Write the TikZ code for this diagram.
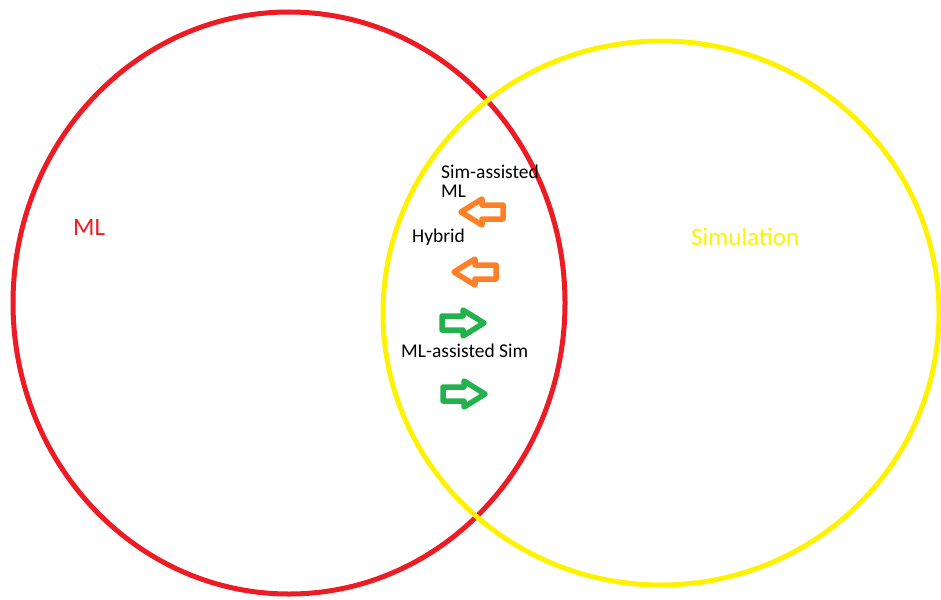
\documentclass[tikz,border=0pt]{standalone}
\usepackage{fontspec}
\setmainfont{Carlito}
\definecolor{paintred}{RGB}{237,28,36}
\definecolor{paintyellow}{RGB}{255,242,0}
\definecolor{paintorange}{RGB}{255,127,39}
\definecolor{paintgreen}{RGB}{34,177,76}
\tikzset{
  set/.style={line width=5pt},
  biglabel/.style={anchor=base west, inner sep=0pt, font=\fontsize{25}{30}\selectfont},
  smalllabel/.style={anchor=base west, inner sep=0pt, align=left, font=\fontsize{19.5}{19}\selectfont},
  fat arrow/.pic={
    \draw[pic actions, line width=5.5pt, line join=round, fill=white]
      (0,-7) -- (21,-7) -- (21,-13) -- (42,0) -- (21,13) -- (21,7) -- (0,7) -- cycle;
  }
}
\begin{document}
\begin{tikzpicture}[x=1pt, y=-1pt]
\useasboundingbox (0,0) rectangle (941,599);
% the two sets
\draw[set, paintred] (289,303) ellipse [x radius=276, y radius=291];
\draw[set, paintyellow] (661,313) ellipse [x radius=278, y radius=272];
\node[biglabel, text=paintred] (ml) at (73,235) {ML};
\node[biglabel, text=paintyellow] (sim) at (691,245) {Simulation};
% the overlap (base of a two-line node is its last line)
\node[smalllabel] (simml) at (441,197) {Sim-assisted\\ML};
\node[smalllabel] (hybrid) at (412,242) {Hybrid};
\node[smalllabel] (mlsim) at (401,357) {ML-assisted Sim};
\pic[paintorange, xscale=-1] at (503,212) {fat arrow};
\pic[paintorange, xscale=-1] at (496,272) {fat arrow};
\pic[paintgreen] at (442,323) {fat arrow};
\pic[paintgreen] at (443,394) {fat arrow};
\end{tikzpicture}
\end{document}
